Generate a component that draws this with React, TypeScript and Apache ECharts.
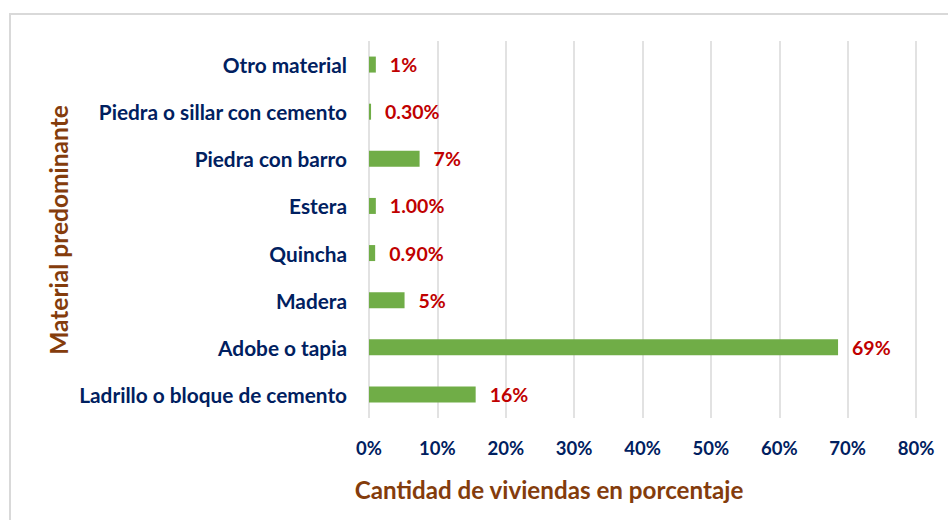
import React, { useEffect, useRef } from "react";
import * as echarts from "echarts";

const categories = [
  "Otro material",
  "Piedra o sillar con cemento",
  "Piedra con barro",
  "Estera",
  "Quincha",
  "Madera",
  "Adobe o tapia",
  "Ladrillo o bloque de cemento",
];
const values = [1.0, 0.3, 7.4, 1.0, 0.9, 5.2, 68.6, 15.6];
const labelTexts = ["1%", "0.30%", "7%", "1.00%", "0.90%", "5%", "69%", "16%"];
const xTicks = [0, 10, 20, 30, 40, 50, 60, 70, 80];
const xTitle = "Cantidad de viviendas en porcentaje";
const yTitle = "Material predominante";

const FONT = "Lato";

export default function App() {
  const ref = useRef<HTMLDivElement>(null);
  useEffect(() => {
    if (!ref.current) return;
    const chart = echarts.init(ref.current, null, { renderer: "svg" });
    chart.setOption({
      animation: false,
      backgroundColor: "#ffffff",
      graphic: [
        {
          type: "rect",
          shape: { x: 10, y: 14, width: 960, height: 530 },
          style: { fill: "none", stroke: "#D9D9D9", lineWidth: 2 },
          silent: true,
        },
        {
          type: "text",
          x: 549,
          y: 489,
          style: {
            text: xTitle,
            fill: "#843C0C",
            font: `bold 24.2px ${FONT}`,
            align: "center",
            verticalAlign: "middle",
          },
        },
        {
          type: "text",
          x: 58,
          y: 230,
          rotation: Math.PI / 2,
          style: {
            text: yTitle,
            fill: "#843C0C",
            font: `bold 24.5px ${FONT}`,
            align: "center",
            verticalAlign: "middle",
          },
        },
      ],
      grid: { left: 369, right: 32, top: 41, bottom: 102, containLabel: false },
      xAxis: {
        type: "value",
        min: xTicks[0],
        max: xTicks[xTicks.length - 1],
        interval: 10,
        axisLine: { show: false },
        axisTick: { show: false },
        splitLine: { show: true, lineStyle: { color: "#D9D9D9", width: 1.5 } },
        axisLabel: {
          formatter: (v: number) => `${v}%`,
          color: "#002060",
          fontFamily: FONT,
          fontWeight: "bold",
          fontSize: 18.5,
          margin: 20,
        },
      },
      yAxis: {
        type: "category",
        data: categories,
        inverse: true,
        axisLine: { show: false },
        axisTick: { show: false },
        axisLabel: {
          color: "#002060",
          fontFamily: FONT,
          fontWeight: "bold",
          fontSize: 20.8,
          margin: 22,
        },
      },
      series: [
        {
          type: "bar",
          data: values,
          barWidth: 16,
          itemStyle: { color: "#70AD47" },
          label: {
            show: true,
            position: "right",
            distance: 14,
            formatter: (p: any) => labelTexts[p.dataIndex],
            color: "#C00000",
            fontFamily: FONT,
            fontWeight: "bold",
            fontSize: 19.5,
          },
        },
      ],
    });
    return () => chart.dispose();
  }, []);
  return (
    <div
      ref={ref}
      style={{ position: "fixed", left: 0, top: 0, width: 948, height: 520 }}
    />
  );
}
